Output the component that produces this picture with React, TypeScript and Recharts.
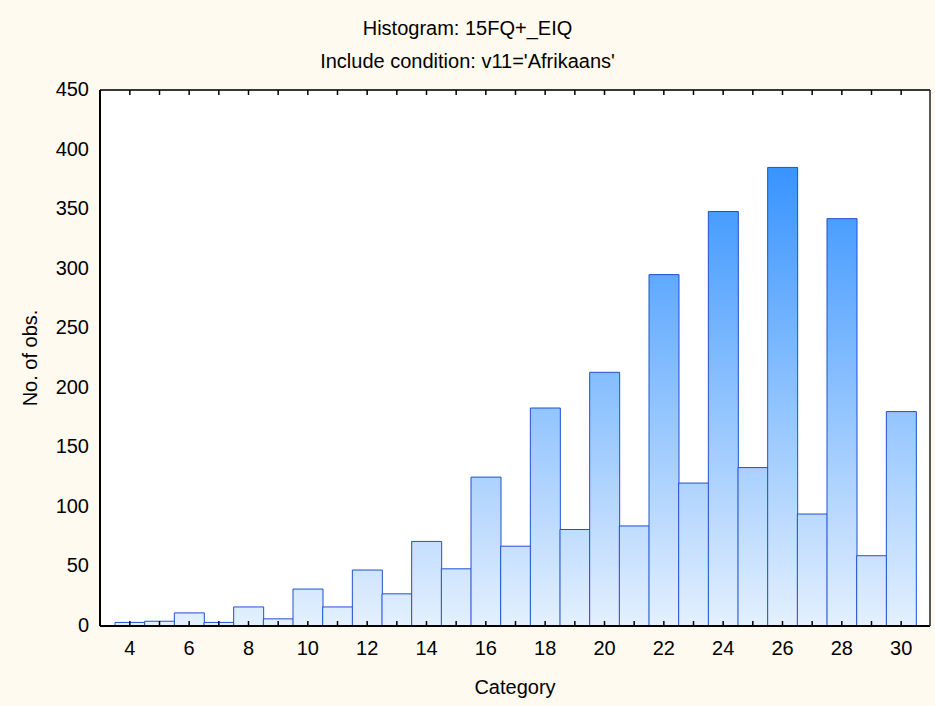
import React from 'react';
import { BarChart, Bar, XAxis, YAxis, CartesianGrid, Label } from 'recharts';

const categories = [4, 5, 6, 7, 8, 9, 10, 11, 12, 13, 14, 15, 16, 17, 18, 19, 20, 21, 22, 23, 24, 25, 26, 27, 28, 29, 30];
const counts = [3, 4, 11, 3, 16, 6, 31, 16, 47, 27, 71, 48, 125, 67, 183, 81, 213, 84, 295, 120, 348, 133, 385, 94, 342, 59, 180];
const yTicks = [0, 50, 100, 150, 200, 250, 300, 350, 400, 450];
const xLabelCategories = [4, 6, 8, 10, 12, 14, 16, 18, 20, 22, 24, 26, 28, 30];

const data = categories.map((c, i) => ({ category: c, count: counts[i] }));

const FONT = '"Liberation Sans", Arial, sans-serif';
const FS = 20;
const BG = '#FFFAEF';
const X_TICK_MARGIN = 15;

const BottomTick = (props: any) => {
  const { x, y, payload } = props;
  const axisY = y - X_TICK_MARGIN;
  const show = xLabelCategories.includes(payload.value);
  return (
    <g>
      <line x1={x} x2={x} y1={axisY} y2={axisY - 5} stroke="#000" strokeWidth={1.5} />
      {show && (
        <text x={x} y={y} dy="0.71em" textAnchor="middle" fontSize={FS} fontFamily={FONT} fill="#000">
          {payload.value}
        </text>
      )}
    </g>
  );
};

const LeftTick = (props: any) => {
  const { x, y, payload } = props;
  return (
    <g>
      <text x={x} y={y} dy="0.3em" textAnchor="end" fontSize={FS} fontFamily={FONT} fill="#000">
        {payload.value}
      </text>
    </g>
  );
};

const EmptyTick = () => <g />;

const titleStyle: React.CSSProperties = {
  position: 'absolute',
  left: 0,
  width: 935,
  textAlign: 'center',
  fontFamily: FONT,
  fontSize: FS,
  lineHeight: '22px',
  color: '#000',
  whiteSpace: 'nowrap',
};

export default function App() {
  return (
    <div style={{ position: 'absolute', left: 0, top: 0, width: 935, height: 706, background: BG }}>
      <div style={{ ...titleStyle, top: 17 }}>Histogram: 15FQ+_EIQ</div>
      <div style={{ ...titleStyle, top: 50 }}>Include condition: v11='Afrikaans'</div>
      <BarChart
        width={935}
        height={706}
        data={data}
        margin={{ top: 90, right: 5, bottom: 0, left: 0 }}
        barCategoryGap={0}
        barGap={0}
        style={{ position: 'absolute', left: 0, top: 0 }}
      >
        <defs>
          <linearGradient id="barGrad" gradientUnits="userSpaceOnUse" x1="0" y1="90" x2="0" y2="626">
            <stop offset="0" stopColor="#1a84ff" />
            <stop offset="1" stopColor="#e4f0fe" />
          </linearGradient>
        </defs>
        <CartesianGrid vertical={false} stroke="#d2d2d2" strokeWidth={1.5} fill="#ffffff" />
        <XAxis
          dataKey="category"
          xAxisId="main"
          height={80}
          interval={0}
          padding={{ left: 15, right: 14 }}
          tickSize={0}
          tickMargin={X_TICK_MARGIN}
          tick={BottomTick}
          axisLine={{ stroke: '#000', strokeWidth: 2 }}
        >
          <Label value="Category" position="insideBottom" offset={12} fontSize={FS} fontFamily={FONT} fill="#000" />
        </XAxis>
        <XAxis
          dataKey="category"
          xAxisId="top"
          orientation="top"
          mirror
          interval={0}
          padding={{ left: 15, right: 14 }}
          tickSize={5}
          tick={EmptyTick}
          tickLine={{ stroke: '#000', strokeWidth: 1.5 }}
          axisLine={{ stroke: '#000', strokeWidth: 1.5 }}
        />
        <YAxis
          yAxisId="main"
          width={100}
          domain={[0, 450]}
          ticks={yTicks}
          interval={0}
          tickSize={0}
          tickMargin={11}
          tick={LeftTick}
          axisLine={{ stroke: '#000', strokeWidth: 2 }}
        >
          <Label value="No. of obs." angle={-90} position="insideLeft" offset={30} textAnchor="middle" fontSize={FS} fontFamily={FONT} fill="#000" />
        </YAxis>
        <YAxis
          yAxisId="right"
          orientation="right"
          mirror
          domain={[0, 450]}
          ticks={yTicks}
          interval={0}
          tickSize={5}
          tick={EmptyTick}
          tickLine={{ stroke: '#333', strokeWidth: 1.5 }}
          axisLine={{ stroke: '#222', strokeWidth: 1.5 }}
        />
        <Bar
          dataKey="count"
          xAxisId="main"
          yAxisId="main"
          fill="url(#barGrad)"
          stroke="#1f50d2"
          strokeWidth={1}
          isAnimationActive={false}
        />
      </BarChart>
    </div>
  );
}
